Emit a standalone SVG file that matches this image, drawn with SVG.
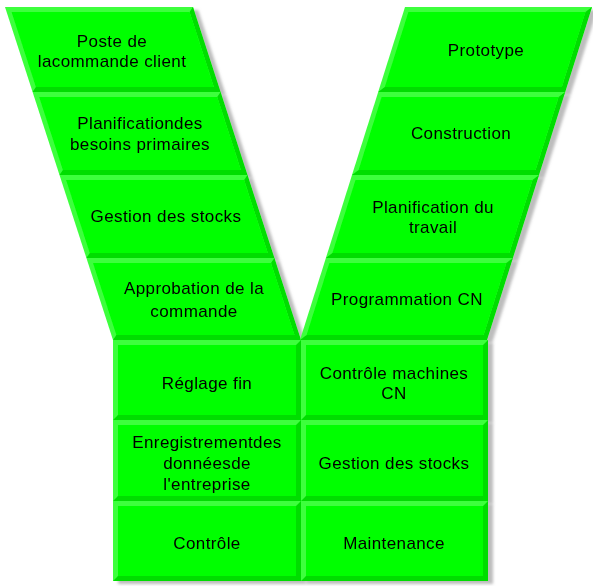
<svg xmlns="http://www.w3.org/2000/svg" width="593" height="586" viewBox="0 0 593 586">
<style>
.o{fill:#3dff3d}
.d{fill:#00dd00}
.i{fill:#00ff00}
text{font-family:"Liberation Sans",Arial,sans-serif;font-size:17px;fill:#000;text-anchor:middle;letter-spacing:0.4px}
</style>
<defs>
<filter id="sh" x="-10%" y="-10%" width="130%" height="130%">
<feOffset in="SourceAlpha" dx="5" dy="3" result="o"/>
<feGaussianBlur in="o" stdDeviation="1.4" result="b"/>
<feFlood flood-color="#a0a0a0" flood-opacity="0.7"/>
<feComposite in2="b" operator="in" result="s"/>
<feMerge><feMergeNode in="s"/><feMergeNode in="SourceGraphic"/></feMerge>
</filter>
</defs>
<rect width="593" height="586" fill="#fff"/>
<g id="connectors"/>

<g id="n-poste" filter="url(#sh)">
<polygon class="o" points="5,7 193,7 220.6,92 32.6,92"/>
<polygon class="d" points="193,7 220.6,92 32.6,92 35.9,87 213.9,87 189.6,12"/>
<polygon class="i" points="11.6,12 189.6,12 213.9,87 35.9,87"/>
<text x="112" y="47">Poste de</text>
<text x="112" y="67">lacommande client</text>
</g>
<g id="n-planif-besoins" filter="url(#sh)">
<polygon class="o" points="32.6,92 220.6,92 247.5,175 59.5,175"/>
<polygon class="d" points="220.6,92 247.5,175 59.5,175 62.9,170 240.9,170 217.2,97"/>
<polygon class="i" points="39.2,97 217.2,97 240.9,170 62.9,170"/>
<text x="140" y="129">Planificationdes</text>
<text x="140" y="150">besoins primaires</text>
</g>
<g id="n-gestion-l" filter="url(#sh)">
<polygon class="o" points="59.5,175 247.5,175 274.4,258 86.4,258"/>
<polygon class="d" points="247.5,175 274.4,258 86.4,258 89.8,253 267.8,253 244.1,180"/>
<polygon class="i" points="66.1,180 244.1,180 267.8,253 89.8,253"/>
<text x="166" y="222">Gestion des stocks</text>
</g>
<g id="n-approbation" filter="url(#sh)">
<polygon class="o" points="86.4,258 274.4,258 301,340 113,340"/>
<polygon class="d" points="274.4,258 301,340 113,340 116.4,335 294.4,335 271,263"/>
<polygon class="i" points="93,263 271,263 294.4,335 116.4,335"/>
<text x="194" y="294">Approbation de la</text>
<text x="194" y="317">commande</text>
</g>

<g id="n-prototype" filter="url(#sh)">
<polygon class="o" points="405,7 592,7 565.2,92 378.2,92"/>
<polygon class="d" points="592,7 565.2,92 378.2,92 384.8,87 561.8,87 585.4,12"/>
<polygon class="i" points="408.4,12 585.4,12 561.8,87 384.8,87"/>
<text x="486" y="56">Prototype</text>
</g>
<g id="n-construction" filter="url(#sh)">
<polygon class="o" points="378.2,92 565.2,92 539,175 352,175"/>
<polygon class="d" points="565.2,92 539,175 352,175 358.6,170 535.6,170 558.6,97"/>
<polygon class="i" points="381.6,97 558.6,97 535.6,170 358.6,170"/>
<text x="461" y="139">Construction</text>
</g>
<g id="n-planif-travail" filter="url(#sh)">
<polygon class="o" points="352,175 539,175 512.9,258 325.9,258"/>
<polygon class="d" points="539,175 512.9,258 325.9,258 332.4,253 509.4,253 532.5,180"/>
<polygon class="i" points="355.5,180 532.5,180 509.4,253 332.4,253"/>
<text x="433" y="213">Planification du</text>
<text x="433" y="233">travail</text>
</g>
<g id="n-programmation" filter="url(#sh)">
<polygon class="o" points="325.9,258 512.9,258 487,340 300,340"/>
<polygon class="d" points="512.9,258 487,340 300,340 306.6,335 483.6,335 506.3,263"/>
<polygon class="i" points="329.3,263 506.3,263 483.6,335 306.6,335"/>
<text x="407" y="305">Programmation CN</text>
</g>

<g id="n-reglage" filter="url(#sh)">
<rect class="o" x="113" y="340" width="188" height="80"/>
<polygon class="d" points="301,340 301,420 113,420 118,415 296,415 296,345"/>
<rect class="i" x="118" y="345" width="178" height="70"/>
<text x="207" y="389">Réglage fin</text>
</g>
<g id="n-enregistrement" filter="url(#sh)">
<rect class="o" x="113" y="420" width="188" height="81"/>
<polygon class="d" points="301,420 301,501 113,501 118,496 296,496 296,425"/>
<rect class="i" x="118" y="425" width="178" height="71"/>
<text x="207" y="448">Enregistrementdes</text>
<text x="207" y="469">donnéesde</text>
<text x="207" y="490">l'entreprise</text>
</g>
<g id="n-controle" filter="url(#sh)">
<rect class="o" x="113" y="501" width="188" height="80"/>
<polygon class="d" points="301,501 301,581 113,581 118,576 296,576 296,506"/>
<rect class="i" x="118" y="506" width="178" height="70"/>
<text x="207" y="549">Contrôle</text>
</g>

<g id="n-controle-cn" filter="url(#sh)">
<rect class="o" x="301" y="340" width="187" height="80"/>
<polygon class="d" points="488,340 488,420 301,420 306,415 483,415 483,345"/>
<rect class="i" x="306" y="345" width="177" height="70"/>
<text x="394" y="379">Contrôle machines</text>
<text x="394" y="399">CN</text>
</g>
<g id="n-gestion-r" filter="url(#sh)">
<rect class="o" x="301" y="420" width="187" height="81"/>
<polygon class="d" points="488,420 488,501 301,501 306,496 483,496 483,425"/>
<rect class="i" x="306" y="425" width="177" height="71"/>
<text x="394" y="469">Gestion des stocks</text>
</g>
<g id="n-maintenance" filter="url(#sh)">
<rect class="o" x="301" y="501" width="187" height="80"/>
<polygon class="d" points="488,501 488,581 301,581 306,576 483,576 483,506"/>
<rect class="i" x="306" y="506" width="177" height="70"/>
<text x="394" y="549">Maintenance</text>
</g>
</svg>
